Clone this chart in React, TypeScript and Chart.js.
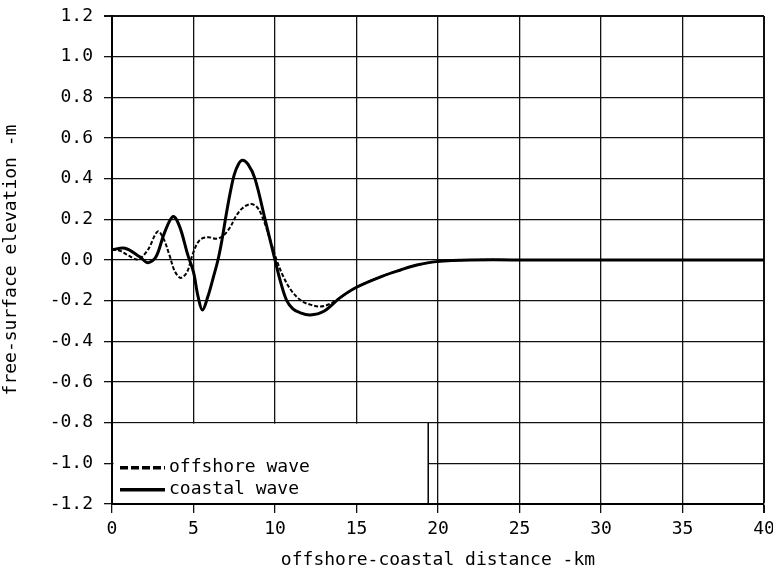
import React, { useEffect, useRef } from "react";
import { Chart, registerables } from "chart.js";

Chart.register(...registerables);

// offshore-coastal distance (km) and free-surface elevation (m)
const offshoreX = [0, 0.5, 1.0, 1.6, 2.2, 2.8, 3.15, 3.54, 3.85, 4.21, 4.6, 4.97, 5.38, 5.89, 6.4, 6.8, 7.24, 7.6, 8.0, 8.5, 8.9, 9.28, 9.7, 10.1, 10.5, 11.0, 11.6, 12.1, 12.76, 13.4, 14.0, 15.0, 16.6, 17.7, 18.7, 19.9, 22, 26, 30, 35, 40];
const offshoreY = [0.05, 0.045, 0.022, 0.003, 0.05, 0.14, 0.107, 0.02, -0.055, -0.088, -0.06, 0.033, 0.098, 0.112, 0.105, 0.118, 0.16, 0.215, 0.255, 0.275, 0.26, 0.2, 0.1, 0.0, -0.08, -0.15, -0.2, -0.218, -0.229, -0.215, -0.185, -0.134, -0.079, -0.049, -0.025, -0.008, 0, 0, 0, 0, 0];

const coastalX = [0, 0.8, 1.7, 2.2, 2.7, 3.2, 3.75, 4.15, 4.65, 5.0, 5.28, 5.55, 5.88, 6.2, 6.5, 6.75, 7.0, 7.25, 7.5, 7.75, 8.0, 8.35, 8.77, 9.39, 10.0, 10.35, 10.72, 11.1, 11.5, 12.15, 13.0, 14.0, 15.0, 16.6, 17.7, 18.7, 19.9, 22, 26, 30, 35, 40];
const coastalY = [0.05, 0.058, 0.016, -0.013, 0.016, 0.13, 0.214, 0.164, 0.025, -0.06, -0.18, -0.246, -0.18, -0.09, 0.0, 0.1, 0.22, 0.33, 0.42, 0.47, 0.49, 0.47, 0.4, 0.2, 0.0, -0.11, -0.2, -0.24, -0.258, -0.27, -0.252, -0.185, -0.134, -0.079, -0.049, -0.025, -0.008, 0, 0, 0, 0, 0];

const xTickLabels = ["0", "5", "10", "15", "20", "25", "30", "35", "40"];
const yTickLabels = ["-1.2", "-1.0", "-0.8", "-0.6", "-0.4", "-0.2", "0.0", "0.2", "0.4", "0.6", "0.8", "1.0", "1.2"];

const seriesNames = ["offshore wave", "coastal wave"];
const xTitle = "offshore-coastal distance -km";
const yTitle = "free-surface elevation -m";

const FONT = "'DejaVu Sans Mono', 'Liberation Mono', monospace";
const FONT_SIZE = 18;

const legendBoxPlugin = {
  id: "legendBox",
  afterDatasetsDraw(chart: any) {
    const { ctx, chartArea, scales } = chart;
    const xs = scales.x;
    const ys = scales.y;
    const left = chartArea.left;
    const bottom = chartArea.bottom;
    const right = xs.getPixelForValue(19.4);
    const top = ys.getPixelForValue(-0.8);
    ctx.save();
    ctx.fillStyle = "#fff";
    ctx.fillRect(left + 1.5, top + 1, right - left - 1.5, bottom - top - 2);
    ctx.strokeStyle = "#000";
    ctx.lineWidth = 1.5;
    ctx.beginPath();
    ctx.moveTo(right, top);
    ctx.lineTo(right, bottom);
    ctx.stroke();

    const y1 = top + 45;
    const y2 = top + 67;
    const sx0 = left + 8;
    const sx1 = left + 53;
    ctx.lineWidth = 3.5;
    ctx.setLineDash([8, 3]);
    ctx.beginPath();
    ctx.moveTo(sx0, y1);
    ctx.lineTo(sx1, y1);
    ctx.stroke();
    ctx.setLineDash([]);
    ctx.beginPath();
    ctx.moveTo(sx0, y2);
    ctx.lineTo(sx1, y2);
    ctx.stroke();

    ctx.fillStyle = "#000";
    ctx.font = `${FONT_SIZE}px ${FONT}`;
    ctx.textAlign = "left";
    ctx.textBaseline = "middle";
    ctx.fillText(seriesNames[0], sx1 + 4, y1);
    ctx.fillText(seriesNames[1], sx1 + 4, y2);
    ctx.restore();
  },
};

export default function App() {
  const canvasRef = useRef<HTMLCanvasElement | null>(null);

  useEffect(() => {
    document.body.style.margin = "0";
    const canvas = canvasRef.current;
    if (!canvas) return;
    const offshore = offshoreX.map((x, i) => ({ x, y: offshoreY[i] }));
    const coastal = coastalX.map((x, i) => ({ x, y: coastalY[i] }));

    const chart = new Chart(canvas, {
      type: "line",
      data: {
        datasets: [
          {
            label: seriesNames[0],
            data: offshore,
            borderColor: "#000",
            borderWidth: 2,
            borderDash: [4, 2],
            pointRadius: 0,
            tension: 0.35,
            fill: false,
          },
          {
            label: seriesNames[1],
            data: coastal,
            borderColor: "#000",
            borderWidth: 3,
            pointRadius: 0,
            tension: 0.35,
            fill: false,
          },
        ],
      },
      options: {
        responsive: false,
        animation: false,
        events: [],
        layout: { padding: { left: 0, right: 9, top: 16, bottom: 0 } },
        plugins: {
          legend: { display: false },
          tooltip: { enabled: false },
        },
        scales: {
          x: {
            type: "linear",
            min: 0,
            max: 40,
            ticks: {
              stepSize: 5,
              color: "#000",
              padding: 6,
              maxRotation: 0,
              font: { family: FONT, size: FONT_SIZE },
              callback: (v: any, i: number) => xTickLabels[i] ?? String(v),
            },
            grid: {
              color: "#111",
              lineWidth: (c: any) => (c.tick && c.tick.value === 40 ? 2 : 1.3),
              tickLength: 9,
            },
            border: { color: "#000", width: 2 },
            title: {
              display: true,
              text: xTitle,
              color: "#000",
              font: { family: FONT, size: FONT_SIZE },
              padding: { top: 0, bottom: 3 },
            },
            afterFit: (s: any) => {
              s.height = 70;
              s.paddingLeft = 0;
              s.paddingRight = 0;
            },
          },
          y: {
            type: "linear",
            min: -1.2,
            max: 1.2,
            ticks: {
              stepSize: 0.2,
              color: "#000",
              padding: 11,
              font: { family: FONT, size: FONT_SIZE },
              callback: (v: any) => {
                const idx = Math.round((Number(v) + 1.2) / 0.2);
                return yTickLabels[idx] ?? String(v);
              },
            },
            grid: {
              color: "#111",
              lineWidth: (c: any) => (c.tick && Math.abs(c.tick.value - 1.2) < 1e-6 ? 2 : 1.3),
              tickLength: 8,
            },
            border: { color: "#000", width: 2 },
            title: {
              display: true,
              text: yTitle,
              color: "#000",
              font: { family: FONT, size: FONT_SIZE },
              padding: { top: 1, bottom: 0 },
            },
            afterFit: (s: any) => {
              s.width = 112;
              s.paddingTop = 0;
              s.paddingBottom = 0;
            },
          },
        },
      },
      plugins: [legendBoxPlugin],
    } as any);

    return () => chart.destroy();
  }, []);

  return (
    <div style={{ position: "fixed", left: 0, top: 0, width: 773, height: 574, background: "#fff" }}>
      <canvas ref={canvasRef} width={773} height={574} style={{ width: 773, height: 574, display: "block" }} />
    </div>
  );
}
